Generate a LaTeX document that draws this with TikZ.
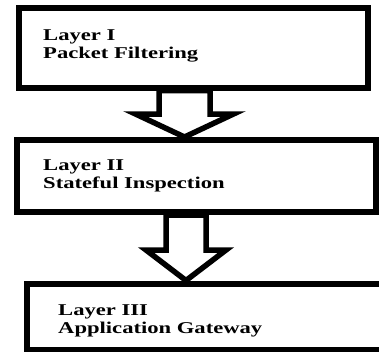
\documentclass[tikz,border=0pt]{standalone}
\usepackage{fontspec}
\setmainfont{Liberation Serif}
\usetikzlibrary{calc}

\tikzset{
  layer/.style={draw,rectangle,line width=6pt,inner sep=0pt},
  layertext/.style={anchor=north west,inner sep=0pt,
    font=\fontsize{16.5}{18.4}\selectfont\bfseries},
  hollow/.style={draw,fill=white,line width=5.5pt,line join=miter}
}

% wide two-line label
\newcommand{\widelabel}[2]{\scalebox{1.37}[1]{\begin{tabular}[t]{@{}l@{}}#1\\#2\end{tabular}}}

% hollow block arrow: from node, to node, x, shaft half width, head half width, head length
\newcommand{\stagearrow}[6]{
  \coordinate (top) at (#3,0 |- #1.south);
  \coordinate (tip) at (#3,0 |- #2.north);
  \draw[hollow] ($(top)+(-#4,0)$) -- ($(tip)+(-#4,-#6)$) -- ($(tip)+(-#5,-#6)$) -- (tip)
    -- ($(tip)+(#5,-#6)$) -- ($(tip)+(#4,-#6)$) -- ($(top)+(#4,0)$) -- cycle;
}

\begin{document}
\begin{tikzpicture}[x=1pt,y=-1pt]
  \useasboundingbox (0,0) rectangle (379,351);
  \clip (0,0) rectangle (379,351);

  \node[layer,minimum width=348.5pt,minimum height=79.5pt] at (193.25,47.75) (l1) {};
  \node[layer,minimum width=359pt,minimum height=72pt] at (196.5,176) (l2) {};
  \node[layer,minimum width=357.5pt,minimum height=66pt] at (205.25,316.5) (l3) {};

  \node[layertext] at (43,27) (t1) {\widelabel{Layer I}{Packet Filtering}};
  \node[layertext] at (43,157) (t2) {\widelabel{Layer II}{Stateful Inspection}};
  \node[layertext] at (58,302.5) (t3) {\widelabel{Layer III}{Application Gateway}};

  \stagearrow{l1}{l2}{184.5}{25.5}{49}{23}
  \stagearrow{l2}{l3}{186}{20}{40}{30.5}

\end{tikzpicture}
\end{document}
